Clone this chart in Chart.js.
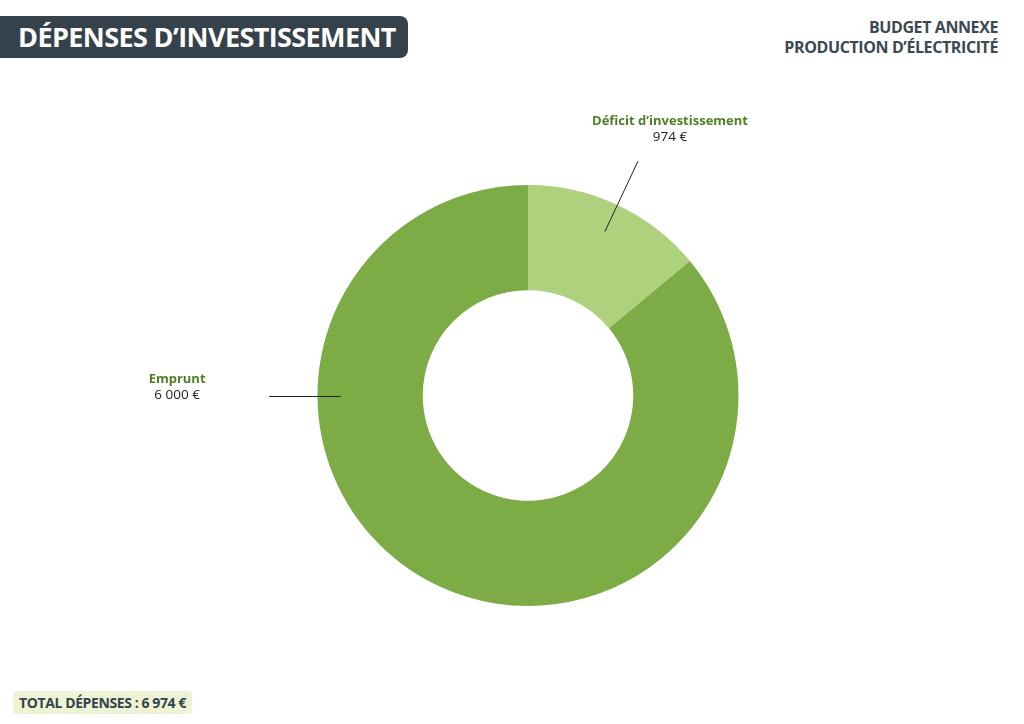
<!DOCTYPE html>
<html lang="fr">
<head>
  <meta charset="UTF-8">
  <title>Dépenses d'investissement</title>
  <script src="https://cdn.jsdelivr.net/npm/chart.js"></script>
  <style>
    body {
      margin: 0;
      width: 1024px;
      height: 724px;
      background: #fff;
      font-family: 'Open Sans', sans-serif;
      position: relative;
      overflow: hidden;
    }

    .title {
      position: absolute;
      left: 0;
      top: 16px;
      width: 408px;
      height: 42px;
      background: #36424b;
      border-radius: 0 8px 8px 0;
      color: #fff;
      font-weight: 700;
      font-size: 27px;
      line-height: 42px;
      padding-left: 18px;
      box-sizing: border-box;
      letter-spacing: -0.6px;
    }

    .subtitle {
      position: absolute;
      right: 26px;
      top: 17px;
      text-align: right;
      color: #3c4852;
      font-weight: 700;
      font-size: 16px;
      line-height: 20px;
      letter-spacing: -0.4px;
    }

    .total {
      position: absolute;
      left: 13px;
      top: 691px;
      padding: 0 6px;
      height: 23px;
      line-height: 23px;
      background: #eef3d6;
      border-radius: 4px;
      color: #36424b;
      font-weight: 700;
      font-size: 14px;
      letter-spacing: -0.4px;
    }

    #chart {
      position: absolute;
      left: 0;
      top: 0;
    }
  </style>
</head>
<body>
  <div class="title">DÉPENSES D’INVESTISSEMENT</div>
  <div class="subtitle">BUDGET ANNEXE<br>PRODUCTION D’ÉLECTRICITÉ</div>
  <div class="total">TOTAL DÉPENSES : 6 974 €</div>

  <canvas id="chart" width="1024" height="724"></canvas>

  <script>
    // data
    const labels = ['Déficit d’investissement', 'Emprunt'];
    const values = [974, 6000];
    const valueLabels = ['974 €', '6 000 €'];
    const colors = ['#aed17d', '#7dab46'];

    // labels + leader lines around the ring
    const calloutPlugin = {
      id: 'callouts',
      afterDraw(chart) {
        const ctx = chart.ctx;
        const arcs = chart.getDatasetMeta(0).data;
        ctx.save();
        ctx.strokeStyle = '#222';
        ctx.lineWidth = 1;
        ctx.textAlign = 'center';
        ctx.textBaseline = 'middle';

        // first slice: radial line from its middle angle
        let a = arcs[0];
        let mid = (a.startAngle + a.endAngle) / 2;
        let r = a.outerRadius;
        ctx.beginPath();
        ctx.moveTo(a.x + Math.cos(mid) * r * 0.86, a.y + Math.sin(mid) * r * 0.86);
        ctx.lineTo(a.x + Math.cos(mid) * r * 1.23, a.y + Math.sin(mid) * r * 1.23);
        ctx.stroke();
        let lx = a.x + Math.cos(mid) * r * 1.23 + 32;
        let ly = a.y + Math.sin(mid) * r * 1.23 - 40;
        ctx.font = 'bold 13px "Open Sans"';
        ctx.fillStyle = '#4f7f26';
        ctx.fillText(labels[0], lx, ly);
        ctx.font = '13.5px "Open Sans"';
        ctx.fillStyle = '#222';
        ctx.fillText(valueLabels[0], lx, ly + 16);

        // second slice: horizontal line on the left side
        a = arcs[1];
        r = a.outerRadius;
        ctx.beginPath();
        ctx.moveTo(a.x - r * 0.89, a.y + 1);
        ctx.lineTo(a.x - r * 1.23, a.y + 1);
        ctx.stroke();
        lx = a.x - r * 1.23 - 92;
        ly = a.y - 16;
        ctx.font = 'bold 13px "Open Sans"';
        ctx.fillStyle = '#4f7f26';
        ctx.fillText(labels[1], lx, ly);
        ctx.font = '13.5px "Open Sans"';
        ctx.fillStyle = '#222';
        ctx.fillText(valueLabels[1], lx, ly + 16);
        ctx.restore();
      }
    };

    new Chart(document.getElementById('chart'), {
      type: 'doughnut',
      data: {
        labels: labels,
        datasets: [{
          data: values,
          backgroundColor: colors,
          borderWidth: 0
        }]
      },
      options: {
        responsive: false,
        animation: false,
        cutout: '50%',
        layout: { padding: { left: 100, right: 68, top: 185, bottom: 118 } },
        plugins: {
          legend: { display: false },
          tooltip: { enabled: false }
        }
      },
      plugins: [calloutPlugin]
    });
  </script>
</body>
</html>
